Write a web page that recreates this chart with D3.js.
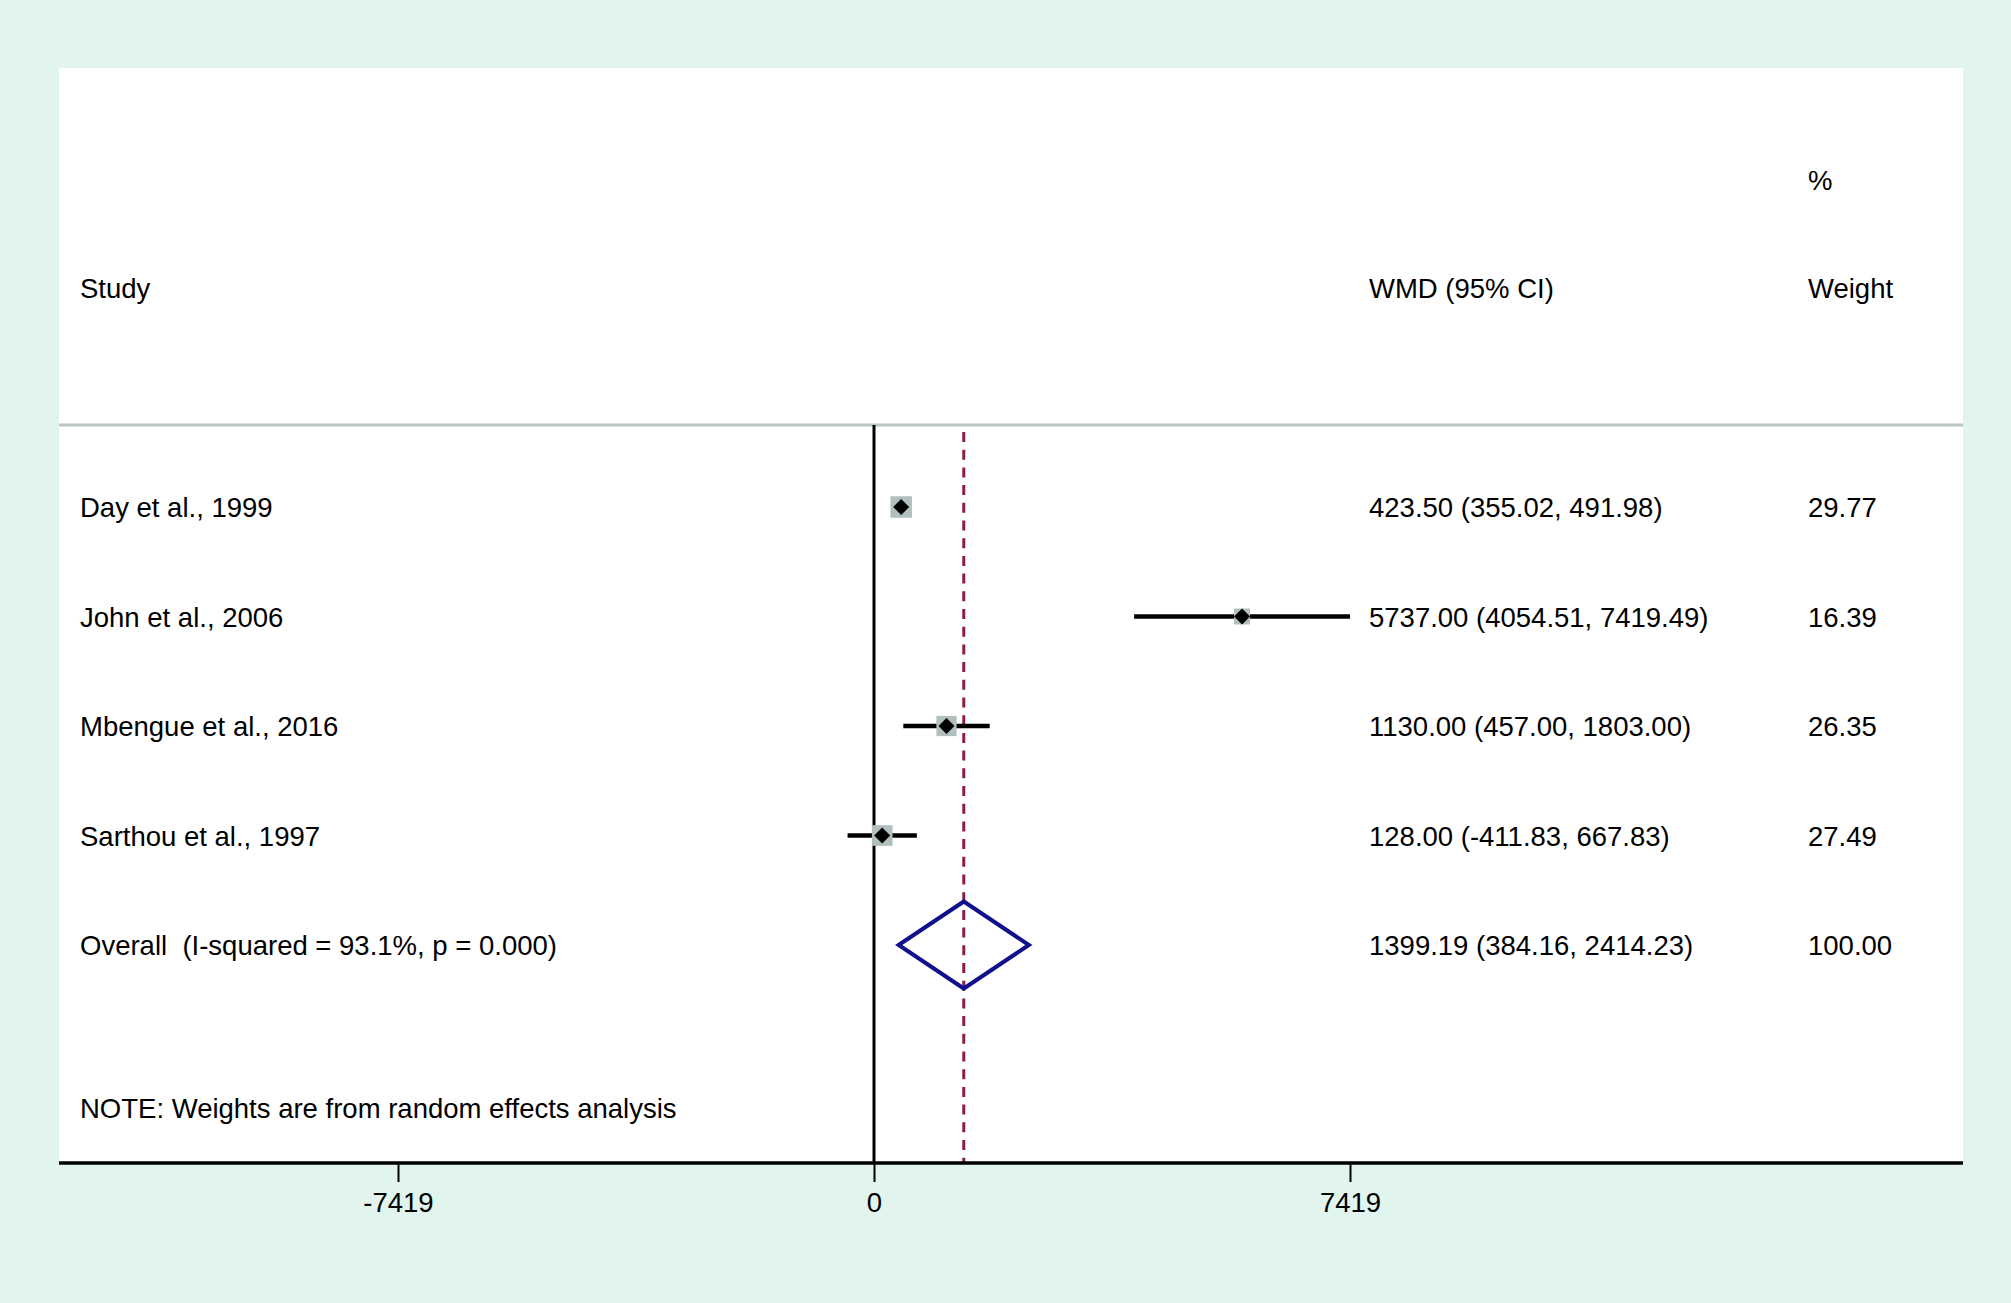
<!DOCTYPE html>
<html>
<head>
<meta charset="utf-8">
<script src="https://cdn.jsdelivr.net/npm/d3@7"></script>
<style>
  html, body { margin: 0; padding: 0; background: #e2f4ee; }
  svg { display: block; }
  text { font-family: "Liberation Sans", Arial, sans-serif; fill: #000; white-space: pre; }
</style>
</head>
<body>
<svg id="chart"></svg>
<script>
// Study data (WMD with 95% CI, random-effects weights)
const studies = ["Day et al., 1999", "John et al., 2006", "Mbengue et al., 2016", "Sarthou et al., 1997"];
const effects = [423.50, 5737.00, 1130.00, 128.00];
const lower = [355.02, 4054.51, 457.00, -411.83];
const upper = [491.98, 7419.49, 1803.00, 667.83];
const weights = [29.77, 16.39, 26.35, 27.49];

const overallLabel = "Overall  (I-squared = 93.1%, p = 0.000)";
const overall = { est: 1399.19, lo: 384.16, hi: 2414.23, weight: 100.00 };
const note = "NOTE: Weights are from random effects analysis";
const tickValues = [-7419, 0, 7419];

const width = 2011, height = 1303;
const panel = { left: 59, top: 68, right: 1963, bottom: 1163 };
const fontSize = 27.5;
const col = { label: 80, ci: 1369, weight: 1808 };

const svg = d3.select("#chart").attr("width", width).attr("height", height);

// background + white plot region
svg.append("rect").attr("width", width).attr("height", height).attr("fill", "#e2f4ee");
svg.append("rect")
    .attr("x", panel.left).attr("y", panel.top)
    .attr("width", panel.right - panel.left).attr("height", panel.bottom - panel.top)
    .attr("fill", "#fff");

const x = d3.scaleLinear().domain([-7419, 7419]).range([398, 1350]);
// row positions: studies 0..3, overall 4
const y = d3.scaleLinear().domain([0, 4]).range([507, 945]);
const size = d3.scaleSqrt().domain([0, d3.max(weights)]).range([0, 21.5]);

// plain hyphen for negatives, like the original output
const fmt = v => d3.format(".2f")(v).replace("\u2212", "-");
const rows = studies.map((s, i) => ({
    name: s, est: effects[i], lo: lower[i], hi: upper[i], w: weights[i], i
}));

// header
const header = svg.append("g").attr("font-size", fontSize);
header.append("text").attr("x", col.label).attr("y", 298).text("Study");
header.append("text").attr("x", col.ci).attr("y", 298).text("WMD (95% CI)");
header.append("text").attr("x", col.weight).attr("y", 190).text("%");
header.append("text").attr("x", col.weight).attr("y", 298).text("Weight");

// separator under header
svg.append("line")
    .attr("x1", panel.left).attr("x2", panel.right)
    .attr("y1", 425).attr("y2", 425)
    .attr("stroke", "#b8c6c6").attr("stroke-width", 3);

// null line
svg.append("line")
    .attr("x1", x(0)).attr("x2", x(0))
    .attr("y1", 425).attr("y2", panel.bottom)
    .attr("stroke", "#000").attr("stroke-width", 3);

// overall effect line
svg.append("line")
    .attr("x1", x(overall.est)).attr("x2", x(overall.est))
    .attr("y1", 432).attr("y2", panel.bottom)
    .attr("stroke", "#8c1c4c").attr("stroke-width", 3)
    .attr("stroke-dasharray", "10,7.7");

// CI lines
svg.append("g").selectAll("line")
    .data(rows).enter().append("line")
    .attr("x1", d => x(d.lo)).attr("x2", d => x(d.hi))
    .attr("y1", d => y(d.i)).attr("y2", d => y(d.i))
    .attr("stroke", "#000").attr("stroke-width", 4.5);

// weight boxes
svg.append("g").selectAll("rect")
    .data(rows).enter().append("rect")
    .attr("x", d => x(d.est) - size(d.w) / 2)
    .attr("y", d => y(d.i) - size(d.w) / 2)
    .attr("width", d => size(d.w)).attr("height", d => size(d.w))
    .attr("fill", "#b1bfbf");

// point estimates
const dm = 8;
svg.append("g").selectAll("path")
    .data(rows).enter().append("path")
    .attr("d", d => {
        const cx = x(d.est), cy = y(d.i);
        return `M${cx},${cy - dm}L${cx + dm},${cy}L${cx},${cy + dm}L${cx - dm},${cy}Z`;
    })
    .attr("fill", "#000");

// pooled diamond
const oy = y(4), oh = 43.5;
svg.append("path")
    .attr("d", `M${x(overall.lo)},${oy}L${x(overall.est)},${oy - oh}L${x(overall.hi)},${oy}L${x(overall.est)},${oy + oh}Z`)
    .attr("fill", "none").attr("stroke", "#10108c").attr("stroke-width", 4)
    .attr("stroke-linejoin", "miter");

// row text
const txt = svg.append("g").attr("font-size", fontSize);
rows.forEach(d => {
    const by = y(d.i) + 10;
    txt.append("text").attr("x", col.label).attr("y", by).text(d.name);
    txt.append("text").attr("x", col.ci).attr("y", by)
        .text(`${fmt(d.est)} (${fmt(d.lo)}, ${fmt(d.hi)})`);
    txt.append("text").attr("x", col.weight).attr("y", by).text(fmt(d.w));
});
txt.append("text").attr("x", col.label).attr("y", oy + 10).text(overallLabel);
txt.append("text").attr("x", col.ci).attr("y", oy + 10)
    .text(`${fmt(overall.est)} (${fmt(overall.lo)}, ${fmt(overall.hi)})`);
txt.append("text").attr("x", col.weight).attr("y", oy + 10).text(fmt(overall.weight));
txt.append("text").attr("x", col.label).attr("y", y(5.49) + 10).text(note);

// x axis
svg.append("line")
    .attr("x1", panel.left).attr("x2", panel.right)
    .attr("y1", panel.bottom).attr("y2", panel.bottom)
    .attr("stroke", "#000").attr("stroke-width", 3.5);

const axis = svg.append("g")
    .attr("transform", `translate(0,${panel.bottom})`)
    .call(d3.axisBottom(x).tickValues(tickValues).tickSize(19).tickPadding(10)
        .tickFormat(v => String(v)));
axis.select(".domain").remove();
axis.selectAll(".tick line").attr("stroke", "#000").attr("stroke-width", 2);
axis.selectAll(".tick text")
    .attr("font-size", fontSize)
    .attr("font-family", "'Liberation Sans', Arial, sans-serif")
    .attr("fill", "#000");
</script>
</body>
</html>
